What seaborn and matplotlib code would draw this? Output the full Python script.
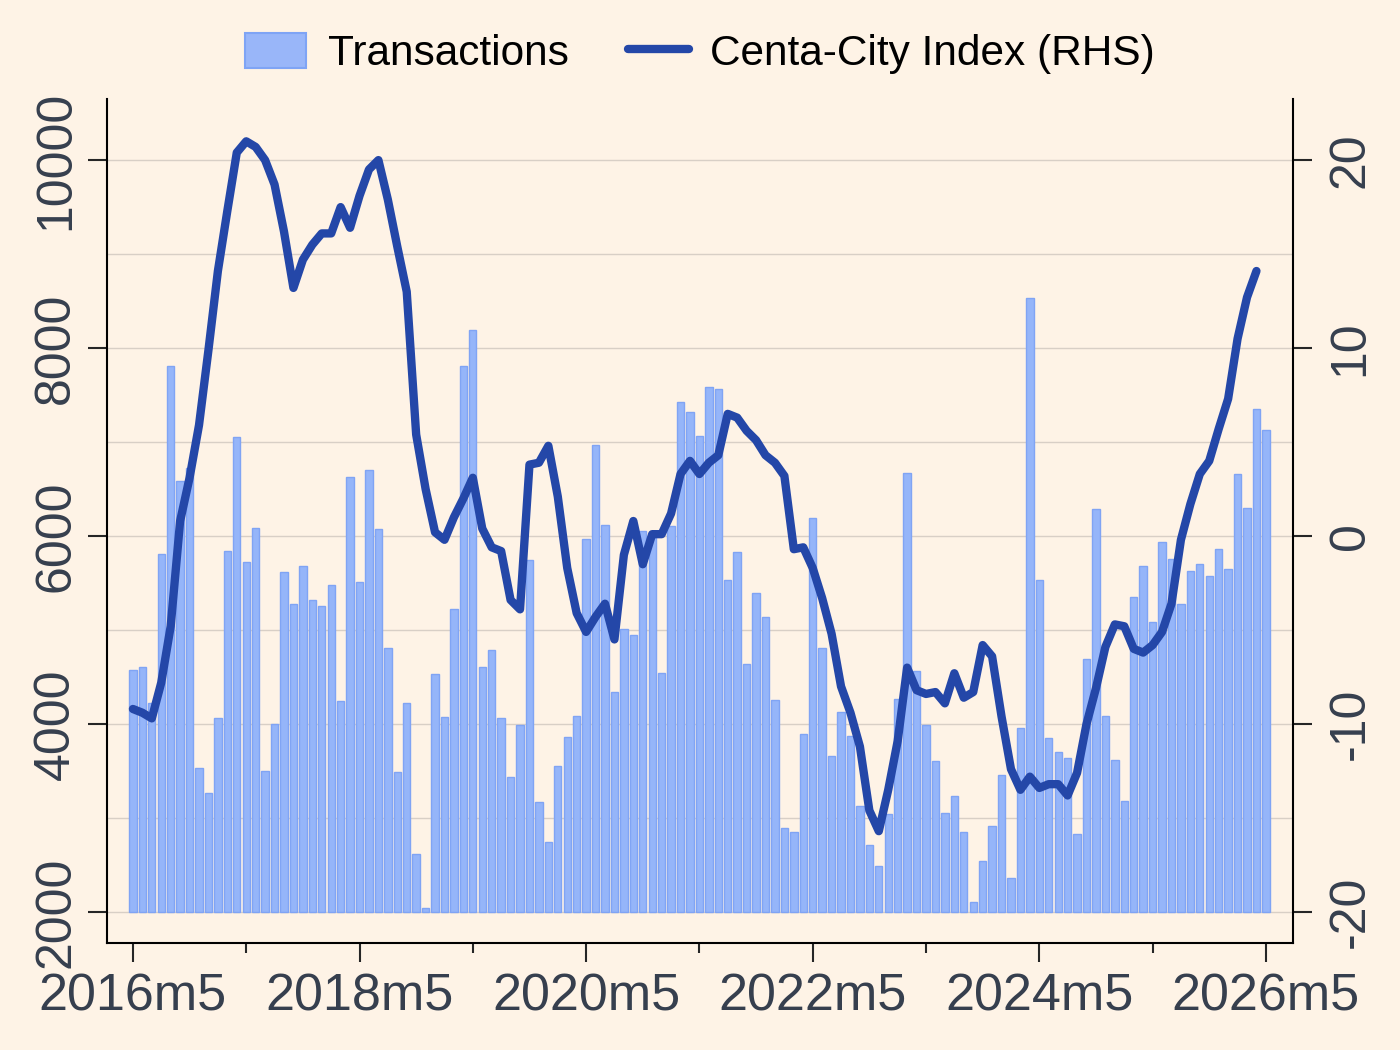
import numpy as np
import pandas as pd
import matplotlib
matplotlib.use("Agg")
import matplotlib.pyplot as plt
from matplotlib.patches import Patch
from matplotlib.lines import Line2D
import seaborn as sns

# monthly data, 2016m5 .. 2026m5
START_YEAR, START_MONTH = 2016, 5

transactions = [
    4573, 4606, 4226, 5805, 7807, 6586, 6722, 3537, 3270, 4068, 5843, 7048,
    5724, 6087, 3504, 4003, 5615, 5279, 5680, 5322, 5257, 5474, 4247, 6630,
    5506, 6700, 6076, 4812, 3488, 4226, 2620, 2044, 4530, 4079, 5219, 7807,
    8193, 4611, 4790, 4068, 3433, 3987, 5745, 3173, 2749, 3558, 3857, 4090,
    5973, 6972, 6120, 4345, 5013, 4942, 6055, 5990, 4546, 6109, 7428, 7314,
    7069, 7580, 7569, 5528, 5827, 4633, 5392, 5137, 4258, 2896, 2853, 3889,
    6190, 4812, 3656, 4128, 3867, 3129, 2717, 2494, 3043, 4269, 6673, 4568,
    3992, 3602, 3053, 3238, 2847, 2109, 2543, 2912, 3460, 2359, 3960, 8535,
    5528, 3846, 3705, 3640, 2831, 4687, 6282, 4090, 3612, 3184, 5354, 5680,
    5089, 5935, 5751, 5279, 5631, 5702, 5577, 5865, 5653, 6657, 6299, 7347,
    7124,
]

cc_index = [
    -9.2, -9.4, -9.7, -7.8, -4.8, 0.8, 3.1, 5.9, 9.9, 14.1, 17.3, 20.4,
    21.0, 20.7, 20.0, 18.7, 16.2, 13.2, 14.7, 15.5, 16.1, 16.1, 17.5, 16.4,
    18.1, 19.5, 20.0, 17.9, 15.4, 13.0, 5.4, 2.5, 0.2, -0.2, 1.0, 2.0,
    3.1, 0.4, -0.6, -0.8, -3.4, -3.9, 3.8, 3.9, 4.8, 2.1, -1.7, -4.1,
    -5.1, -4.3, -3.6, -5.5, -1.0, 0.8, -1.5, 0.1, 0.1, 1.2, 3.3, 4.0,
    3.3, 3.9, 4.3, 6.5, 6.3, 5.6, 5.1, 4.3, 3.9, 3.2, -0.7, -0.6,
    -1.7, -3.3, -5.2, -8.0, -9.4, -11.2, -14.6, -15.7, -13.5, -10.9, -7.0, -8.2,
    -8.4, -8.3, -8.9, -7.3, -8.6, -8.3, -5.8, -6.4, -9.6, -12.4, -13.5, -12.8,
    -13.4, -13.2, -13.2, -13.8, -12.6, -10.0, -8.1, -5.9, -4.7, -4.8, -6.0, -6.2,
    -5.8, -5.1, -3.6, -0.2, 1.7, 3.3, 4.0, 5.7, 7.3, 10.5, 12.7, 14.1,
]

x_labels = ["2016m5", "2018m5", "2020m5", "2022m5", "2024m5", "2026m5"]
left_ticks = [2000, 4000, 6000, 8000, 10000]
right_ticks = [-20, -10, 0, 10, 20]

BASE = 2000
BG = "#FEF3E6"
BAR_FILL = "#95B5F9"
BAR_EDGE = "#80A4F4"
LINE_C = "#2447A8"
GRID_C = "#D8CFC6"
TICK_C = "#363F4E"

bars = pd.DataFrame({"month": np.arange(len(transactions)),
                     "height": np.array(transactions) - BASE})
line = pd.DataFrame({"month": np.arange(len(cc_index)), "index": cc_index})

sns.set_theme(style="white")
plt.rcParams["font.family"] = ["Liberation Sans", "DejaVu Sans"]

fig = plt.figure(figsize=(14, 10.5), dpi=100, facecolor=BG)
ax = fig.add_axes([0.0764, 0.1019, 0.8471, 0.8038])
ax.set_facecolor(BG)

sns.barplot(data=bars, x="month", y="height", bottom=BASE, native_scale=True,
            width=0.78, color=BAR_FILL, edgecolor=BAR_EDGE, linewidth=1,
            saturation=1, ax=ax)

ax2 = ax.twinx()
sns.lineplot(data=line, x="month", y="index", ax=ax2, color=LINE_C,
             linewidth=6, legend=False, solid_capstyle="round",
             solid_joinstyle="round")

ax.set_xlim(-2.75, 122.86)
ax.set_ylim(1670, 10649)
ax2.set_ylim(-21.65, 23.25)

ax.set_xticks(np.arange(0, 121, 24), x_labels)
ax.set_xticks(np.arange(12, 121, 24), minor=True)
ax.set_yticks(left_ticks, [str(v) for v in left_ticks])
ax.set_yticks(np.arange(3000, 10000, 2000), minor=True)
ax2.set_yticks(right_ticks, [str(v) for v in right_ticks])

ax.tick_params(axis="x", which="major", length=14, width=1.5, pad=7,
               labelsize=37.5, labelcolor=TICK_C, bottom=True)
ax.tick_params(axis="x", which="minor", length=7, width=1.5, bottom=True)
ax.tick_params(axis="y", which="major", length=14, width=1.5, pad=6,
               labelsize=36, labelcolor=TICK_C, labelrotation=90, left=True)
ax.tick_params(axis="y", which="minor", length=0)
ax2.tick_params(axis="y", length=14, width=1.5, pad=11, labelsize=36,
                labelcolor=TICK_C, labelrotation=90, right=True)
for lab in ax.get_yticklabels() + ax2.get_yticklabels():
    lab.set_va("center")

ax.grid(axis="y", which="both", color=GRID_C, linewidth=1)
ax.set_axisbelow(True)

for s in ["top", "right"]:
    ax.spines[s].set_visible(False)
for s in ["top", "left", "bottom"]:
    ax2.spines[s].set_visible(False)
for a, sides in [(ax, ["left", "bottom"]), (ax2, ["right"])]:
    for s in sides:
        a.spines[s].set_color("black")
        a.spines[s].set_linewidth(1.5)

ax.set_xlabel("")
ax.set_ylabel("")
ax2.set_xlabel("")
ax2.set_ylabel("")

handles = [Patch(facecolor="#99B6F9", edgecolor="#7FA4F5", linewidth=1.5),
           Line2D([], [], color=LINE_C, linewidth=6)]
fig.legend(handles, ["Transactions", "Centa-City Index (RHS)"],
           loc="upper center", bbox_to_anchor=(0.5, 1.005), ncol=2,
           frameon=False, fontsize=30.5, labelcolor="black",
           handlelength=1.45, handleheight=0.9,
           handletextpad=0.5, columnspacing=1.4)

fig.savefig("out.png", dpi=100, facecolor=BG)
